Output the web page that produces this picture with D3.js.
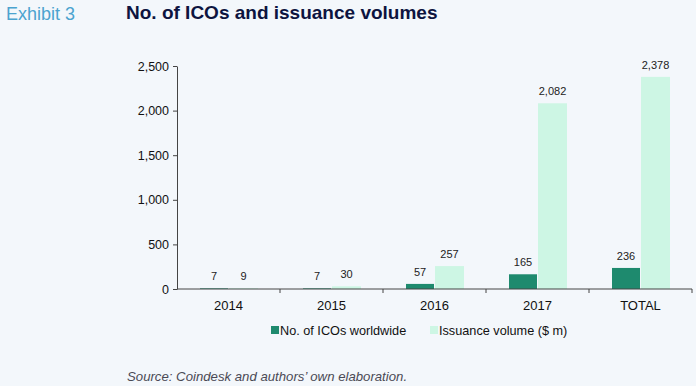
<html>
<script src="https://d3js.org/d3.v7.min.js"></script>
<body style="margin:0;background:#f3f7fb;">
<style>
    body { font-family: Arial, "Liberation Sans", sans-serif; }
</style>
<svg width="696" height="386"></svg>
<script>
var years = ["2014", "2015", "2016", "2017", "TOTAL"];
var icoCount = [7, 7, 57, 165, 236];
var issuance = [9, 30, 257, 2082, 2378];
var yTicks = [0, 500, 1000, 1500, 2000, 2500];
var seriesNames = ["No. of ICOs worldwide", "Issuance volume ($ m)"];

var dark = "#1e8a6e", light = "#cdf6e4";
var svg = d3.select("svg");

svg.append("rect").attr("width", 696).attr("height", 386).attr("fill", "#f3f7fb");

svg.append("text").attr("x", 6).attr("y", 20).text("Exhibit 3")
    .style("font-size", "18px").attr("fill", "#4ba3cf");
svg.append("text").attr("x", 126).attr("y", 19).text("No. of ICOs and issuance volumes")
    .style("font-size", "19px").style("font-weight", "bold").attr("fill", "#0d1440");

var plotLeft = 177, plotRight = 692, plotTop = 66, plotBottom = 289;

var x = d3.scaleBand().domain(years).range([plotLeft, plotRight]);
var y = d3.scaleLinear().domain([0, 2500]).range([plotBottom, plotTop]);

var rows = years.map(function(d, i) { return {year: d, n: icoCount[i], v: issuance[i]}; });

var g = svg.append("g");
// dark bars, then light bars
g.selectAll(".nbar").data(rows).enter().append("rect")
    .attr("x", function(d) { return x(d.year) + 23; })
    .attr("width", 28)
    .attr("y", function(d) { return y(d.n); })
    .attr("height", function(d) { return plotBottom - y(d.n); })
    .attr("fill", dark);
g.selectAll(".vbar").data(rows).enter().append("rect")
    .attr("x", function(d) { return x(d.year) + 52; })
    .attr("width", 29)
    .attr("y", function(d) { return y(d.v); })
    .attr("height", function(d) { return plotBottom - y(d.v); })
    .attr("fill", light);

// value labels
var fmt = d3.format(",");
g.selectAll(".nlab").data(rows).enter().append("text")
    .attr("x", function(d) { return x(d.year) + 37; })
    .attr("y", function(d) { return y(d.n) - 8; })
    .attr("text-anchor", "middle").style("font-size", "11px").attr("fill", "#222")
    .text(function(d) { return fmt(d.n); });
g.selectAll(".vlab").data(rows).enter().append("text")
    .attr("x", function(d) { return x(d.year) + 66.5; })
    .attr("y", function(d) { return y(d.v) - 8; })
    .attr("text-anchor", "middle").style("font-size", "11px").attr("fill", "#222")
    .text(function(d) { return fmt(d.v); });

// y axis
var ya = svg.append("g").attr("transform", "translate(" + plotLeft + ",0)")
    .call(d3.axisLeft(y).tickValues(yTicks).tickFormat(fmt).tickSize(4).tickSizeOuter(0));
ya.select(".domain").attr("stroke", "#444");
ya.selectAll(".tick line").attr("stroke", "#444");
ya.selectAll("text").style("font-size", "12.5px").style("font-family", "Arial, 'Liberation Sans', sans-serif")
    .attr("fill", "#111").attr("x", -8);

// x axis with ticks at band boundaries
svg.append("line").attr("x1", plotLeft).attr("x2", plotRight).attr("y1", plotBottom).attr("y2", plotBottom)
    .attr("stroke", "#444");
var bounds = years.map(function(d) { return x(d); }).concat([plotRight]);
svg.selectAll(".xt").data(bounds.slice(1)).enter().append("line")
    .attr("x1", function(d) { return d; }).attr("x2", function(d) { return d; })
    .attr("y1", plotBottom).attr("y2", plotBottom + 4).attr("stroke", "#444");
svg.selectAll(".xl").data(years).enter().append("text")
    .attr("x", function(d) { return x(d) + x.bandwidth() / 2; })
    .attr("y", plotBottom + 21)
    .attr("text-anchor", "middle").style("font-size", "13px").attr("fill", "#111")
    .text(function(d) { return d; });

// legend
var lx = [271, 430];
var lc = [dark, light];
seriesNames.forEach(function(s, i) {
    svg.append("rect").attr("x", lx[i]).attr("y", 326).attr("width", 8).attr("height", 8).attr("fill", lc[i]);
    svg.append("text").attr("x", lx[i] + 9).attr("y", 335).text(s)
        .style("font-size", "12.7px").attr("fill", "#111");
});

svg.append("text").attr("x", 127).attr("y", 381).text("Source: Coindesk and authors\u2019 own elaboration.")
    .style("font-size", "13.2px").style("font-style", "italic").attr("fill", "#4a4a55");
</script>
</body>
</html>
